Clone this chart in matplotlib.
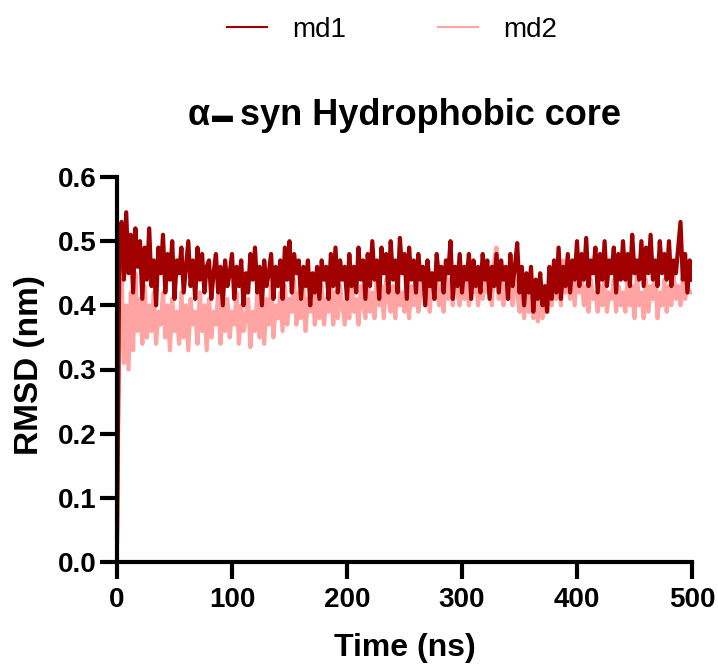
import numpy as np
import matplotlib
matplotlib.use("Agg")
import matplotlib.pyplot as plt

plt.rcParams['font.family'] = ['Liberation Sans', 'DejaVu Sans']

# time axis (ns), one sample every 2 ns
time_ns = np.arange(0, 502, 2)

# RMSD (nm)
md1 = [
    0.03, 0.47, 0.53, 0.44, 0.545, 0.45, 0.51, 0.42, 0.52, 0.46,
    0.50, 0.41, 0.49, 0.44, 0.52, 0.43, 0.47, 0.40, 0.49, 0.45,
    0.51, 0.42, 0.48, 0.44, 0.50, 0.41, 0.47, 0.45, 0.49, 0.42,
    0.46, 0.50, 0.43, 0.47, 0.41, 0.49, 0.44, 0.48, 0.42, 0.46,
    0.47, 0.41, 0.45, 0.48, 0.42, 0.46, 0.40, 0.47, 0.43, 0.45,
    0.48, 0.41, 0.46, 0.43, 0.47, 0.40, 0.45, 0.42, 0.48, 0.44,
    0.49, 0.42, 0.46, 0.40, 0.47, 0.43, 0.45, 0.48, 0.41, 0.46,
    0.43, 0.47, 0.41, 0.49, 0.44, 0.50, 0.42, 0.48, 0.45, 0.47,
    0.41, 0.46, 0.43, 0.47, 0.40, 0.45, 0.42, 0.46, 0.41, 0.47,
    0.44, 0.46, 0.41, 0.48, 0.43, 0.49, 0.42, 0.47, 0.44, 0.46,
    0.41, 0.48, 0.43, 0.46, 0.42, 0.49, 0.44, 0.47, 0.41, 0.48,
    0.43, 0.50, 0.44, 0.47, 0.41, 0.49, 0.45, 0.48, 0.42, 0.50,
    0.44, 0.47, 0.42, 0.505, 0.45, 0.48, 0.41, 0.49, 0.44, 0.47,
    0.42, 0.48, 0.44, 0.46, 0.40, 0.47, 0.43, 0.45, 0.41, 0.48,
    0.44, 0.46, 0.42, 0.47, 0.45, 0.50, 0.41, 0.46, 0.43, 0.48,
    0.42, 0.46, 0.44, 0.48, 0.41, 0.47, 0.43, 0.46, 0.42, 0.48,
    0.44, 0.47, 0.41, 0.46, 0.43, 0.48, 0.42, 0.47, 0.44, 0.46,
    0.41, 0.48, 0.43, 0.46, 0.497, 0.42, 0.46, 0.40, 0.45, 0.42,
    0.46, 0.39, 0.44, 0.41, 0.45, 0.40, 0.43, 0.39, 0.46, 0.41,
    0.47, 0.42, 0.49, 0.41, 0.46, 0.43, 0.48, 0.42, 0.47, 0.44,
    0.50, 0.43, 0.48, 0.44, 0.505, 0.43, 0.47, 0.45, 0.49, 0.42,
    0.48, 0.44, 0.50, 0.43, 0.47, 0.45, 0.49, 0.42, 0.48, 0.44,
    0.50, 0.44, 0.48, 0.43, 0.51, 0.45, 0.47, 0.44, 0.50, 0.43,
    0.49, 0.45, 0.51, 0.44, 0.47, 0.43, 0.50, 0.45, 0.48, 0.44,
    0.50, 0.43, 0.47, 0.45, 0.49, 0.53, 0.44, 0.48, 0.42, 0.47,
    0.44,
]

md2 = [
    0.04, 0.36, 0.44, 0.31, 0.40, 0.30, 0.42, 0.33, 0.45, 0.36,
    0.41, 0.34, 0.43, 0.35, 0.40, 0.36, 0.42, 0.34, 0.39, 0.37,
    0.42, 0.35, 0.40, 0.33, 0.41, 0.36, 0.39, 0.34, 0.42, 0.35,
    0.40, 0.33, 0.41, 0.37, 0.39, 0.34, 0.42, 0.36, 0.40, 0.33,
    0.41, 0.35, 0.39, 0.37, 0.42, 0.34, 0.40, 0.36, 0.41, 0.35,
    0.39, 0.37, 0.42, 0.34, 0.40, 0.36, 0.38, 0.41, 0.335, 0.39,
    0.36, 0.42, 0.35, 0.40, 0.34, 0.41, 0.37, 0.43, 0.35, 0.40,
    0.38, 0.42, 0.36, 0.43, 0.37, 0.41, 0.39, 0.44, 0.37, 0.42,
    0.38, 0.43, 0.36, 0.41, 0.39, 0.44, 0.37, 0.42, 0.38, 0.43,
    0.37, 0.41, 0.39, 0.44, 0.37, 0.42, 0.38, 0.43, 0.40, 0.37,
    0.42, 0.38, 0.44, 0.39, 0.41, 0.37, 0.43, 0.40, 0.38, 0.44,
    0.39, 0.42, 0.38, 0.45, 0.40, 0.43, 0.38, 0.44, 0.41, 0.39,
    0.43, 0.38, 0.45, 0.40, 0.42, 0.39, 0.44, 0.38, 0.43, 0.40,
    0.44, 0.39, 0.42, 0.46, 0.40, 0.43, 0.39, 0.45, 0.41, 0.44,
    0.40, 0.43, 0.39, 0.45, 0.41, 0.44, 0.40, 0.46, 0.42, 0.40,
    0.44, 0.41, 0.46, 0.40, 0.43, 0.42, 0.45, 0.40, 0.44, 0.41,
    0.46, 0.42, 0.44, 0.40, 0.47, 0.49, 0.41, 0.45, 0.40, 0.43,
    0.41, 0.45, 0.40, 0.44, 0.42, 0.39, 0.43, 0.38, 0.42, 0.39,
    0.43, 0.38, 0.41, 0.375, 0.42, 0.38, 0.40, 0.39, 0.43, 0.40,
    0.44, 0.41, 0.46, 0.40, 0.47, 0.42, 0.44, 0.41, 0.45, 0.40,
    0.46, 0.42, 0.44, 0.40, 0.43, 0.39, 0.44, 0.41, 0.42, 0.39,
    0.43, 0.40, 0.44, 0.39, 0.42, 0.41, 0.44, 0.39, 0.43, 0.40,
    0.42, 0.39, 0.44, 0.40, 0.43, 0.38, 0.45, 0.40, 0.42, 0.38,
    0.44, 0.39, 0.43, 0.41, 0.45, 0.38, 0.42, 0.40, 0.44, 0.39,
    0.43, 0.40, 0.45, 0.41, 0.43, 0.40, 0.44, 0.41, 0.43, 0.42,
    0.42,
]

series_names = ["md1", "md2"]
series_colors = ["#A00000", "#FFA3A3"]

x_ticks = [0, 100, 200, 300, 400, 500]
y_ticks = [0.0, 0.1, 0.2, 0.3, 0.4, 0.5, 0.6]

W, H = 718, 666
fig = plt.figure(figsize=(W / 100, H / 100), dpi=100)
ax = fig.add_axes([117 / W, 1 - 562 / H, 575 / W, 385 / H])

# md2 drawn first so md1 sits on top
ax.plot(time_ns, md2, color=series_colors[1], lw=3, zorder=2)
ax.plot(time_ns, md1, color=series_colors[0], lw=3, zorder=3)

ax.set_xlim(0, 500)
ax.set_ylim(0, 0.6)
ax.set_xticks(x_ticks)
ax.set_yticks(y_ticks)
ax.set_yticklabels([f"{v:.1f}" for v in y_ticks])

for s in ["top", "right"]:
    ax.spines[s].set_visible(False)
for s in ["left", "bottom"]:
    ax.spines[s].set_linewidth(3)
    ax.spines[s].set_zorder(5)

ax.tick_params(axis="both", direction="out", length=12, width=3)
ax.tick_params(axis="x", pad=6)
ax.tick_params(axis="y", pad=3)
for lab in ax.get_yticklabels() + ax.get_xticklabels():
    lab.set_fontsize(20)
    lab.set_fontweight("bold")

# title in pieces: alpha, a black bar, then the rest
title_base = 1 - 125 / H
fig.text(188 / W, title_base, "α", ha="left", va="baseline",
         fontsize=26, fontweight="bold")
fig.text(212 / W, title_base + 3 / H, "▬", ha="left", va="baseline",
         fontsize=15, fontweight="bold")
fig.text(240 / W, title_base, "syn Hydrophobic core", ha="left", va="baseline",
         fontsize=26, fontweight="bold")

fig.text(405 / W, 1 - 648 / H, "Time (ns)",
         ha="center", va="center", fontsize=23, fontweight="bold")
fig.text(30 / W, 1 - 365 / H, "RMSD (nm)", rotation=90,
         ha="center", va="center", fontsize=24, fontweight="bold")

handles = [plt.Line2D([], [], color=c, lw=1.5) for c in series_colors]
fig.legend(handles, series_names, loc="center", ncol=2, frameon=False,
           bbox_to_anchor=(392 / W, 1 - 30 / H), fontsize=20,
           handlelength=1.45, handletextpad=0.9, columnspacing=3.3)

fig.savefig("out.png", dpi=100)
